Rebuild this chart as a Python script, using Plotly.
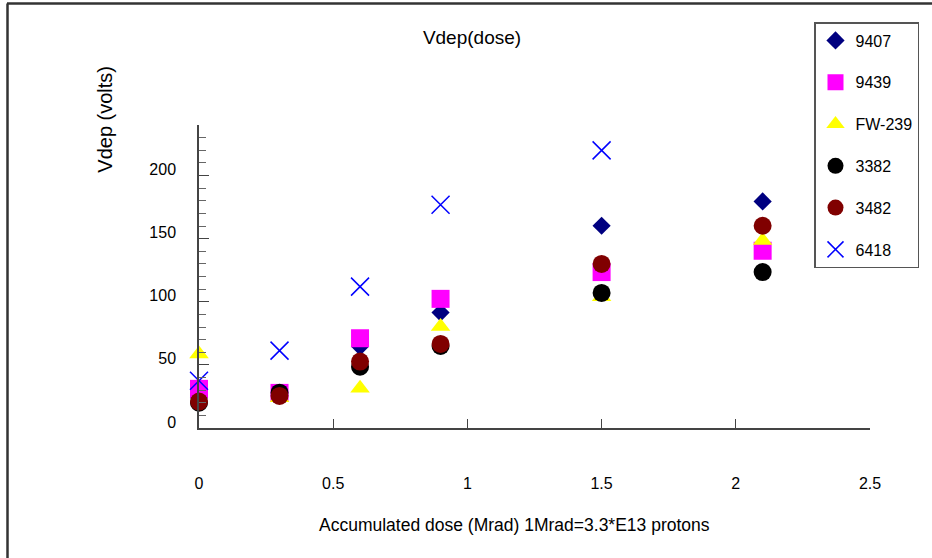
import plotly.graph_objects as go

dose = [0, 0.3, 0.6, 0.9, 1.5, 2.1]
dose_6418 = [0, 0.3, 0.6, 0.9, 1.5]

v_9407 = [24, 26, 64.5, 91.4, 160.2, 179.5]
v_9439 = [31.0, 27.8, 71.1, 102.3, 123.5, 140.4]
v_fw239 = [58.7, 24, 31.5, 80.3, 104, 148.5]
v_3382 = [20, 28, 48.6, 65, 107, 123.5]
v_3482 = [20.9, 25.4, 52.6, 66.6, 130, 160.2]
v_6418 = [37.5, 61.3, 112, 176.8, 219.9]

x_ticks = [0, 0.5, 1, 1.5, 2, 2.5]
y_ticks = [0, 50, 100, 150, 200]

FONT = "Liberation Sans, Arial, sans-serif"

series = [
    ("9407", dose, v_9407, dict(symbol="diamond", size=14, color="#000080")),
    ("9439", dose, v_9439, dict(symbol="square", size=18, color="#FF00FF")),
    ("FW-239", dose, v_fw239, dict(symbol="triangle-up", size=17, color="#FFFF00")),
    ("3382", dose, v_3382, dict(symbol="circle", size=18, color="#000000")),
    ("3482", dose, v_3482, dict(symbol="circle", size=18, color="#800000")),
    ("6418", dose_6418, v_6418, dict(symbol="x-thin-open", size=18, color="#0000FF",
                                    line=dict(color="#0000FF", width=1.5))),
]

fig = go.Figure()
for name, xs, ys, mk in series:
    m = dict(mk)
    if "line" not in m:
        m["line"] = dict(width=0)
    fig.add_trace(go.Scatter(x=xs, y=ys, mode="markers", name=name,
                             legendgroup=name, marker=m, cliponaxis=False))

W, H = 932, 558
L, R, T, B = 199, 870, 125.3, 428
pw, ph = R - L, B - T

def px2x(px):
    return (px - L) / pw

def py2y(py):
    return (B - py) / ph

fig.update_layout(
    width=W, height=H,
    margin=dict(l=L, r=W - R, t=T, b=H - B, pad=0, autoexpand=False),
    paper_bgcolor="white", plot_bgcolor="white",
    font=dict(family=FONT, size=16, color="black"),
    showlegend=True,
    title=dict(text="Vdep(dose)", x=472 / W, y=1 - 37 / H, xref="container",
               yref="container", xanchor="center", yanchor="middle",
               font=dict(family=FONT, size=19, color="black")),
    legend=dict(x=814 / W, y=1 - 22 / H, xref="container", yref="container",
                xanchor="left", yanchor="top", bgcolor="white",
                bordercolor="#555555", borderwidth=1.5,
                font=dict(family=FONT, size=16, color="black"),
                tracegroupgap=18, itemsizing="trace"),
)

fig.update_xaxes(range=[0, 2.5], tickvals=x_ticks, ticktext=[str(t) for t in x_ticks],
                 ticks="inside", ticklen=9, tickwidth=1.2, tickcolor="#444",
                 showline=True, linecolor="#444", linewidth=1.5,
                 showgrid=False, zeroline=False, ticklabelstandoff=40,
                 tickfont=dict(family=FONT, size=16))
fig.update_yaxes(range=[0, 240], tickvals=y_ticks,
                 ticks="inside", ticklen=10, tickwidth=1.2, tickcolor="#444",
                 minor=dict(dtick=10, tick0=0, ticks="inside", ticklen=7,
                            tickcolor="#666", tickwidth=1.2, showgrid=False),
                 showline=True, linecolor="#444", linewidth=1.5,
                 showgrid=False, zeroline=False, ticklabelstandoff=18,
                 ticklabelshift=-6, tickfont=dict(family=FONT, size=16))

fig.add_annotation(text="Vdep (volts)", x=px2x(105), y=py2y(120), xref="paper",
                   yref="paper", xanchor="center", yanchor="middle",
                   showarrow=False, textangle=-90,
                   font=dict(family=FONT, size=20, color="black"))
fig.add_annotation(text="Accumulated dose (Mrad) 1Mrad=3.3*E13 protons",
                   x=px2x(514), y=py2y(525), xref="paper", yref="paper",
                   xanchor="center", yanchor="middle",
                   showarrow=False, font=dict(family=FONT, size=17.5, color="black"))

# outer frame (top and left edges)
fig.add_shape(type="line", xref="paper", yref="paper", x0=px2x(7), x1=px2x(932),
              y0=py2y(4), y1=py2y(4), line=dict(color="#333333", width=2.5))
fig.add_shape(type="line", xref="paper", yref="paper", x0=px2x(7.5), x1=px2x(7.5),
              y0=py2y(4), y1=py2y(558), line=dict(color="#333333", width=2.5))

fig.write_html("out.html")
